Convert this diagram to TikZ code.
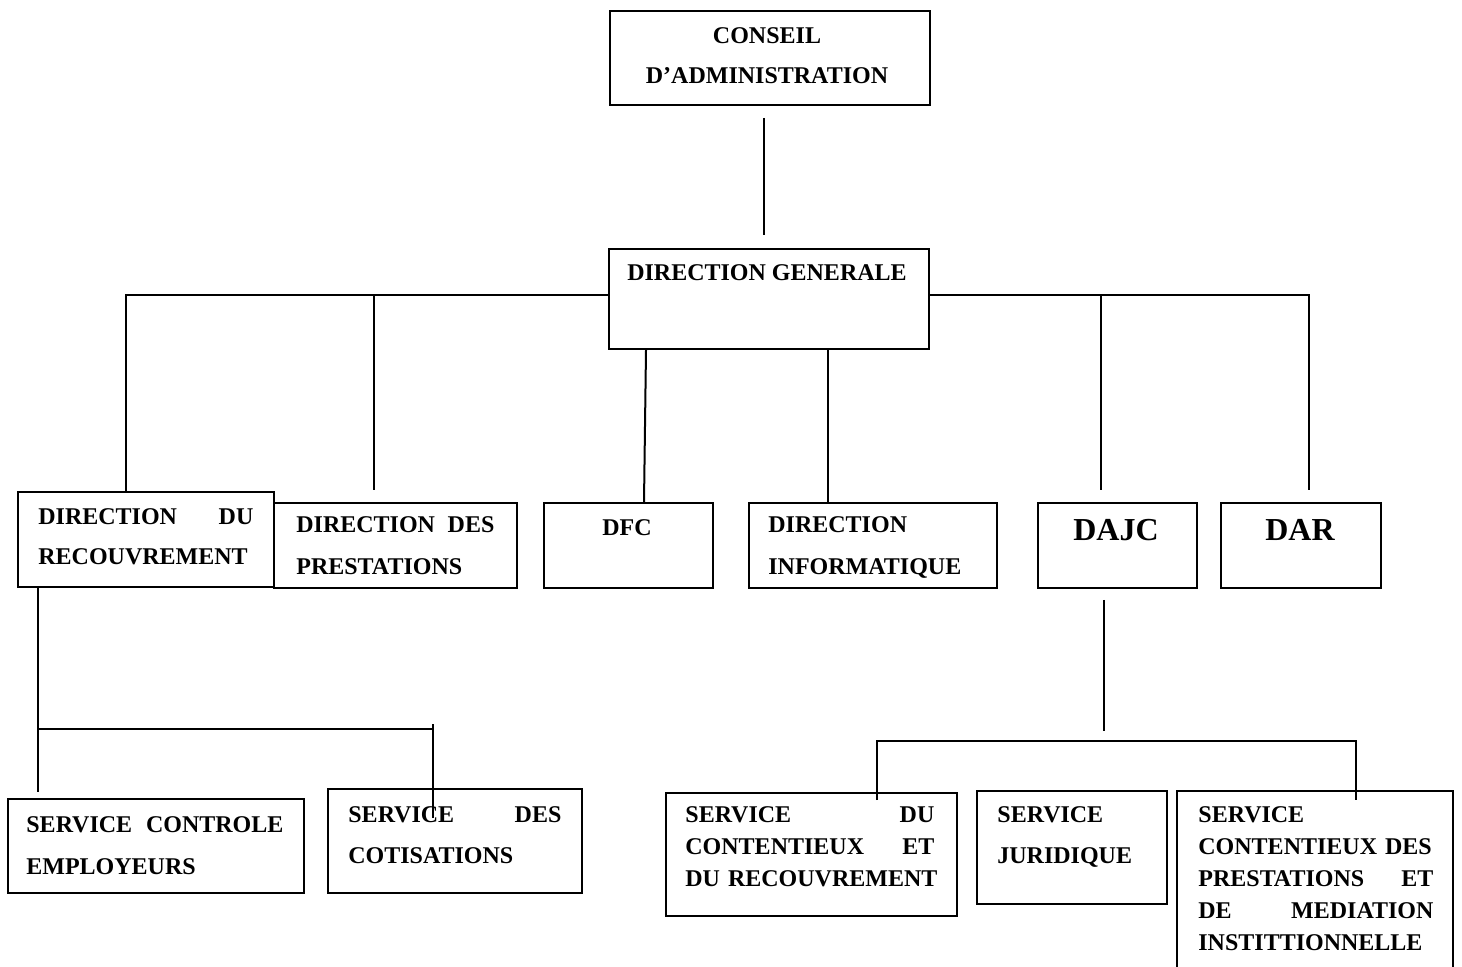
\documentclass[tikz,border=0pt]{standalone}
\usepackage{fontspec}
\setmainfont{Liberation Serif}
\usetikzlibrary{calc}
\begin{document}
\begin{tikzpicture}[x=0.5pt,y=-0.5pt,
  box/.style={draw, line width=1pt, inner sep=0pt, anchor=north west},
  txt/.style={anchor=base west, inner sep=0pt, align=left, font=\fontsize{12}{20}\selectfont\bfseries},
  ctxt/.style={anchor=base, inner sep=0pt, align=center, font=\fontsize{12}{20}\selectfont\bfseries},
  bigtxt/.style={anchor=base, inner sep=0pt, font=\fontsize{16}{20}\selectfont\bfseries},
  link/.style={line width=1pt}]
\useasboundingbox (0,0) rectangle (1462,967);
\fill[white] (0,0) rectangle (1462,967);
% boxes
\node[box, minimum width=160pt, minimum height=47pt] (ca) at (609,10) {};
\node[box, minimum width=160pt, minimum height=50pt] (dg) at (608,248) {};
\node[box, minimum width=128pt, minimum height=47.5pt] (dr) at (17,491) {};
\node[box, minimum width=121.5pt, minimum height=42.5pt] (dp) at (273,502) {};
\node[box, minimum width=84.5pt, minimum height=42.5pt] (dfc) at (543,502) {};
\node[box, minimum width=124pt, minimum height=42.5pt] (di) at (748,502) {};
\node[box, minimum width=79.5pt, minimum height=42.5pt] (dajc) at (1037,502) {};
\node[box, minimum width=80pt, minimum height=42.5pt] (dar) at (1220,502) {};
\node[box, minimum width=148pt, minimum height=47pt] (sce) at (7,798) {};
\node[box, minimum width=127pt, minimum height=52pt] (sc) at (327,788) {};
\node[box, minimum width=145.5pt, minimum height=61.5pt] (sdcr) at (665,792) {};
\node[box, minimum width=95pt, minimum height=56.5pt] (sj) at (976,790) {};
\node[box, minimum width=138pt, minimum height=90pt] (scp) at (1176,790) {};
% texts
\node[ctxt] (tca) at (767,84) {CONSEIL\\D'ADMINISTRATION};
\node[ctxt] (tdg) at (767,281) {DIRECTION GENERALE};
\node[txt, text width=107.5pt] (tdr) at (38,525) {DIRECTION\hfill DU\\RECOUVREMENT};
\node[txt, text width=99pt, font=\fontsize{12}{21}\selectfont\bfseries] (tdp) at (296,533) {DIRECTION\hfill DES\\PRESTATIONS};
\node[ctxt] (tdfc) at (627,536) {DFC};
\node[txt, text width=110pt, font=\fontsize{12}{21}\selectfont\bfseries] (tdi) at (768,533) {DIRECTION\\INFORMATIQUE};
\node[bigtxt] (tdajc) at (1116,541) {DAJC};
\node[bigtxt] (tdar) at (1300,541) {DAR};
\node[txt, text width=128.5pt, font=\fontsize{12}{21}\selectfont\bfseries] (tsce) at (26,832) {SERVICE\hfill CONTROLE\\EMPLOYEURS};
\node[txt, text width=106.5pt, font=\fontsize{12}{20.5}\selectfont\bfseries] (tsc) at (348,822) {SERVICE\hfill DES\\COTISATIONS};
\node[txt, text width=124.5pt, font=\fontsize{12}{16}\selectfont\bfseries] (tsdcr) at (685,822) {SERVICE\hfill DU\\CONTENTIEUX\hfill ET\\\mbox{DU RECOUVREMENT}};
\node[txt, text width=80pt, font=\fontsize{12}{20.5}\selectfont\bfseries] (tsj) at (997,822) {SERVICE\\JURIDIQUE};
\node[txt, text width=117.5pt, font=\fontsize{12}{16}\selectfont\bfseries] (tscp) at (1198,822) {SERVICE\\\mbox{CONTENTIEUX DES}\\PRESTATIONS\hfill ET\\DE\hfill MEDIATION\\\mbox{INSTITTIONNELLE}};
% connectors
\draw[link] ($(ca.south west)+(155,12)$) -- ($(dg.north west)+(156,-13)$);
\coordinate (hl) at ($(dg.north west)+(0,47)$);
\coordinate (hr) at ($(dg.north east)+(0,47)$);
\draw[link] (hl) -- (126,295) -- (126,295 |- dr.north);
\draw[link] (374,295) -- (374,490);
\draw[link] (hr) -- (1309,295) -- (1309,490);
\draw[link] (1101,295) -- (1101,490);
\draw[link] ($(dg.south west)+(38,0)$) -- ($(dfc.north west)+(101,0)$);
\draw[link] ($(dg.south west)+(220,0)$) -- ($(di.north west)+(80,0)$);
\draw[link] ($(dr.south west)+(21,0)$) -- (38,792);
\coordinate (sl) at (38,729);
\draw[link] (sl) -- (433,729);
\draw[link] (433,724) -- (433,818);
\draw[link] ($(dajc.south west)+(67,11)$) -- (1104,731);
\draw[link] (877,800) -- (877,741) -- (1356,741) -- (1356,800);
\end{tikzpicture}
\end{document}
